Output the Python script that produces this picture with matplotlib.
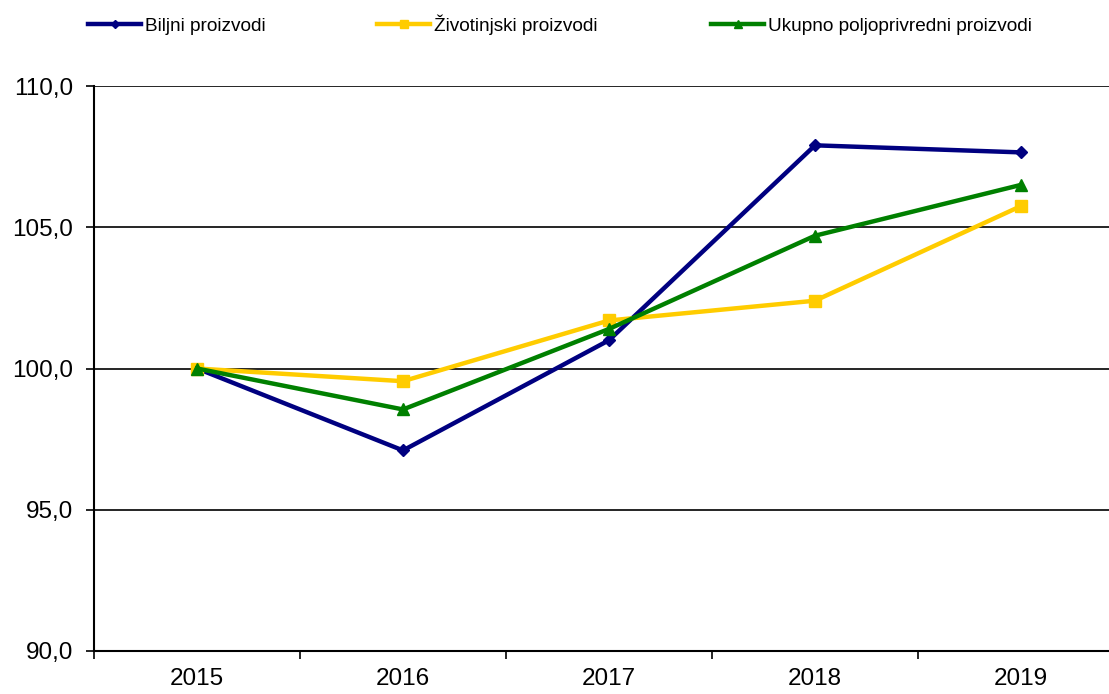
import numpy as np
import matplotlib.pyplot as plt
from matplotlib.ticker import FixedLocator

plt.rcParams['font.family'] = ['Liberation Sans', 'DejaVu Sans']

years = ['2015', '2016', '2017', '2018', '2019']
biljni = [100.0, 97.1, 101.0, 107.9, 107.65]
zivotinjski = [100.0, 99.55, 101.7, 102.4, 105.75]
ukupno = [100.0, 98.55, 101.4, 104.7, 106.5]

series = [
    ('Biljni proizvodi', biljni, '#000080', 'D', 6),
    ('Životinjski proizvodi', zivotinjski, '#FFCC00', 's', 8),
    ('Ukupno poljoprivredni proizvodi', ukupno, '#008000', '^', 8),
]
legend_x = [88, 377, 711]

fig = plt.figure(figsize=(11.09, 6.94), dpi=100)
ax = fig.add_axes([94 / 1109, 1 - 651 / 694, 1030 / 1109, (651 - 86) / 694])

x = np.arange(len(years))
lines = []
for label, vals, color, marker, ms in series:
    ln, = ax.plot(x, vals, color=color, lw=3.2, marker=marker, ms=ms,
                  label=label, clip_on=False, zorder=3)
    lines.append(ln)

ax.set_xlim(-0.5, len(years) - 0.5)
ax.set_ylim(90, 110)
ax.set_yticks([90, 95, 100, 105, 110])
ax.set_yticklabels(['90,0', '95,0', '100,0', '105,0', '110,0'])
ax.yaxis.grid(True, color='black', lw=1.2)
ax.set_axisbelow(True)

ax.xaxis.set_major_locator(FixedLocator(np.arange(-0.5, len(years), 1.0)))
ax.xaxis.set_major_formatter(plt.NullFormatter())
ax.xaxis.set_minor_locator(FixedLocator(x))
ax.set_xticklabels(years, minor=True)
ax.tick_params(axis='x', which='major', length=6, width=1.2, direction='out')
ax.tick_params(axis='x', which='minor', length=0, pad=12, labelsize=17.5)
ax.tick_params(axis='y', length=6, width=1.2, pad=9, labelsize=17.5)

for side in ['top', 'right']:
    ax.spines[side].set_visible(False)
ax.spines['left'].set_linewidth(1.5)
ax.spines['bottom'].set_linewidth(1.5)

# one legend per entry so each sits at its own x position
for ln, lx in zip(lines, legend_x):
    fig.legend(handles=[ln], loc='lower left',
               bbox_to_anchor=(lx / 1109, 1 - 35 / 694),
               frameon=False, fontsize=13.7, handlelength=2.8,
               handletextpad=0.2, borderpad=0, borderaxespad=0,
               markerscale=0.75)

fig.savefig('out.png', dpi=100)
